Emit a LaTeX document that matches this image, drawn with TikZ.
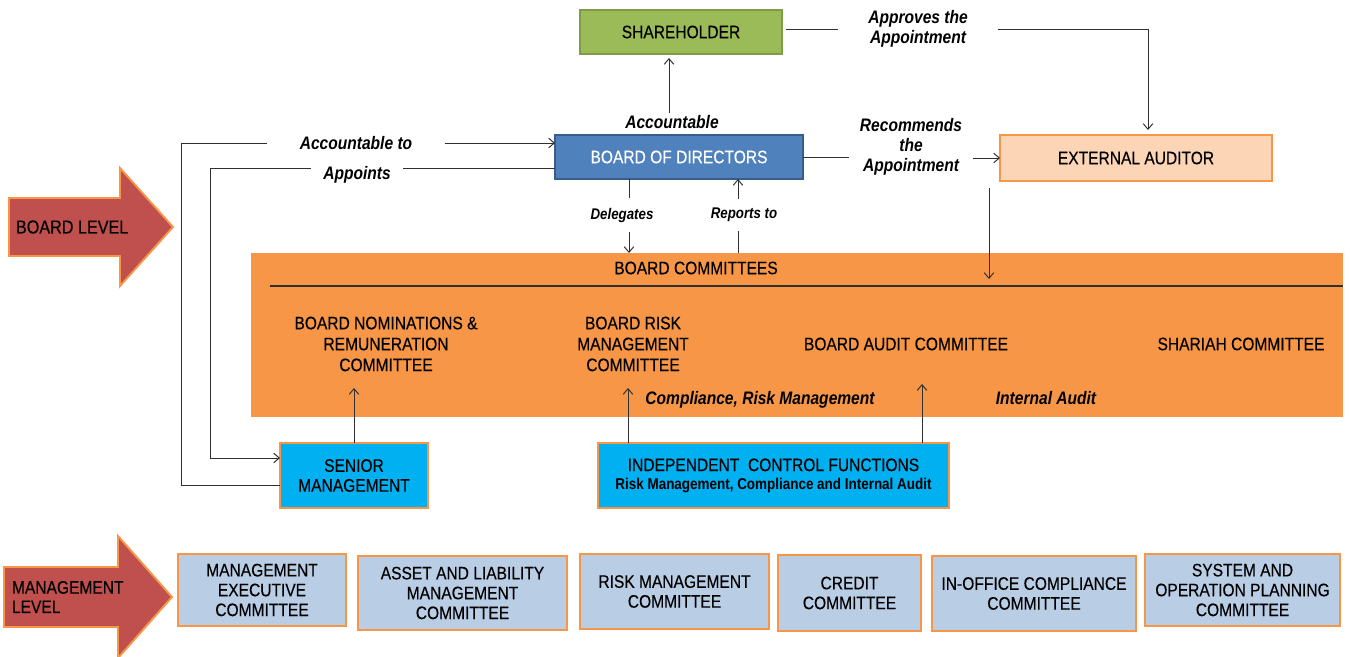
\documentclass[tikz,border=0pt]{standalone}
\usepackage{fontspec}
\setmainfont{Liberation Sans}[FakeStretch=0.86, UprightFeatures={FakeBold=0.3}]
\usetikzlibrary{calc,arrows.meta}
\definecolor{shgreen}{HTML}{9BBB59}
\definecolor{shgreenb}{HTML}{7E9C45}
\definecolor{bodblue}{HTML}{4F81BD}
\definecolor{bodblueb}{HTML}{385D8A}
\definecolor{peach}{HTML}{FBD5B5}
\definecolor{orng}{HTML}{F79646}
\definecolor{cyanb}{HTML}{00B0F0}
\definecolor{ltblue}{HTML}{B9CDE5}
\definecolor{redarr}{HTML}{C0504D}
\definecolor{ln}{HTML}{303030}
\def\u{0.02cm}
\tikzset{
  base/.style={font=\fontsize{10.3}{11.9}\selectfont, align=center, inner sep=0pt, outer sep=0pt},
  itlab/.style={font=\fontsize{10.3}{11.3}\selectfont\bfseries\itshape, align=center, inner ysep=1pt},
  smlab/.style={font=\fontsize{8.8}{10}\selectfont\bfseries\itshape, align=center, inner xsep=0pt},
  conn/.style={draw=ln, line width=0.55pt},
  arr/.style={conn, -{Straight Barb[length=3.2pt,width=5.5pt]}},
  mgmt/.style={base, fill=ltblue, draw=orng, line width=1.2pt, font=\fontsize{10.3}{11.3}\selectfont},
  ctrl/.style={base, fill=cyanb, draw=orng, line width=1.2pt, font=\fontsize{10.3}{11.3}\selectfont},
  bigarrow/.style={fill=redarr, draw=orng, line width=1.1pt, line join=miter}
}
\begin{document}
\begin{tikzpicture}[x=\u, y=-\u]
\useasboundingbox (0,0) rectangle (1351,656);
\clip (0,0) rectangle (1351,656);

% level arrows
\path[bigarrow] (9,198) -- (120,198) -- (120,168) -- (173,227) -- (120,286) -- (120,256) -- (9,256) -- cycle;
\node[base, anchor=west, font=\fontsize{10.7}{12}\selectfont] (blev) at (16,227) {BOARD LEVEL};
\path[bigarrow] (4,567) -- (118,567) -- (118,536) -- (172,597) -- (118,658) -- (118,627) -- (4,627) -- cycle;
\node[base, anchor=west, align=left, font=\fontsize{10.3}{11}\selectfont] (mlev) at (12,597) {MANAGEMENT\\LEVEL};

% main boxes
\node[base, fill=shgreen, draw=shgreenb, line width=0.9pt, minimum width=202*\u, minimum height=44*\u] (sh) at (681,32) {SHAREHOLDER};
\node[base, fill=bodblue, draw=bodblueb, line width=0.9pt, text=white, minimum width=248*\u, minimum height=44*\u] (bod) at (679,157) {BOARD OF DIRECTORS};
\node[base, fill=peach, draw=orng, line width=1.2pt, minimum width=272*\u, minimum height=46*\u] (ea) at (1136,158) {EXTERNAL AUDITOR};

% committees band
\node[base, fill=orng, minimum width=1092*\u, minimum height=164*\u] (bc) at (797,335) {};
\coordinate (sepL) at (270,286);
\draw[ln, line width=0.7pt] (sepL) -- (bc.east |- sepL);
\node[base] (bct) at (696,268) {BOARD COMMITTEES};
\node[base] (nom) at (386,344) {BOARD NOMINATIONS \&\\REMUNERATION\\COMMITTEE};
\node[base] (brm) at (633,344) {BOARD RISK\\MANAGEMENT\\COMMITTEE};
\node[base] (bac) at (906,344) {BOARD AUDIT COMMITTEE};
\node[base] (shc) at (1241,344) {SHARIAH COMMITTEE};
\node[base, font=\fontsize{10.3}{11}\selectfont\bfseries\itshape] (lcomp) at (760,400) {Compliance, Risk Management};
\node[base, font=\fontsize{10.3}{11}\selectfont\bfseries\itshape] (lint) at (1046,398) {Internal Audit};

% control boxes
\node[ctrl, minimum width=148*\u, minimum height=65*\u] (sm) at (354,475.5) {SENIOR\\MANAGEMENT};
\node[ctrl, minimum width=351*\u, minimum height=65*\u] (icf) at (773.5,475.5) {INDEPENDENT\ \ CONTROL FUNCTIONS\\[-1pt]{\fontsize{8.9}{9.5}\selectfont\bfseries Risk Management, Compliance and Internal Audit}};

% management committees
\node[mgmt, minimum width=168*\u, minimum height=72*\u] (m1) at (262,590) {MANAGEMENT\\EXECUTIVE\\COMMITTEE};
\node[mgmt, minimum width=209*\u, minimum height=74*\u] (m2) at (462.5,593) {ASSET AND LIABILITY\\MANAGEMENT\\COMMITTEE};
\node[mgmt, minimum width=189*\u, minimum height=75*\u] (m3) at (674.5,591.5) {RISK MANAGEMENT\\COMMITTEE};
\node[mgmt, minimum width=143*\u, minimum height=76*\u] (m4) at (849.5,593) {CREDIT\\COMMITTEE};
\node[mgmt, minimum width=204*\u, minimum height=75*\u] (m5) at (1034,593.5) {IN-OFFICE COMPLIANCE\\COMMITTEE};
\node[mgmt, minimum width=195*\u, minimum height=72*\u] (m6) at (1242.5,590) {SYSTEM AND\\OPERATION PLANNING\\COMMITTEE};

% labels
\node[itlab, inner xsep=0pt] (lacc) at (672,122) {Accountable};
\node[itlab, inner xsep=30*\u] (lapp) at (918,29) {Approves the\\Appointment};
\node[itlab, inner xsep=11*\u] (lrec) at (911,147) {Recommends\\the\\Appointment};
\node[itlab, inner xsep=32*\u] (lacct) at (356,143) {Accountable to};
\node[itlab, inner xsep=12*\u] (lappt) at (357,175) {Appoints};
\node[smlab, inner ysep=9*\u] (ldel) at (622,215) {Delegates};
\node[smlab, inner ysep=9*\u] (lrep) at (744,215) {Reports to};

\coordinate (dx) at (629,0);
\coordinate (rx) at (738,0);
\coordinate (ox) at (181,0);
\coordinate (ix) at (210,0);
\coordinate (eaS) at ($(ea.south west)+(-11,7)$);

% connectors
\draw[arr, shorten >=4*\u] (lacc.north -| 669,0) -- (sh.south -| 669,0);
\draw[conn] ($(sh.east |- lapp.west)+(4,0)$) -- (lapp.west);
\draw[arr, shorten >=5*\u] (lapp.east) -| ($(ea.north)+(12,0)$);
\draw[conn] (bod.east |- 0,157) -- (lrec.west |- 0,157);
\draw[arr] (lrec.east |- ea.west) -- (ea.west);
\draw[arr, shorten >=7*\u] (eaS) -- (eaS |- sepL);
\draw[conn] (bod.south -| dx) -- (ldel.north -| dx);
\draw[arr] (ldel.south -| dx) -- (bc.north -| dx);
\draw[conn] (bc.north -| rx) -- (lrep.south -| rx);
\draw[arr] (lrep.north -| rx) -- (bod.south -| rx);
\draw[conn] (sm.west |- 0,485) -| (ox |- lacct.west) -- (lacct.west);
\draw[arr] (lacct.east) -- (bod.west |- lacct.east);
\draw[conn] (bod.west |- 0,168) -- (lappt.east |- 0,168);
\draw[arr] (lappt.west |- 0,168) -| (ix |- 0,458) -- (sm.west |- 0,458);
\draw[arr] (sm.north) -- ++(0,-55);
\draw[arr] (icf.north -| 628,0) -- ++(0,-55);
\draw[arr] (icf.north -| 922,0) -- ++(0,-59);
\end{tikzpicture}
\end{document}
